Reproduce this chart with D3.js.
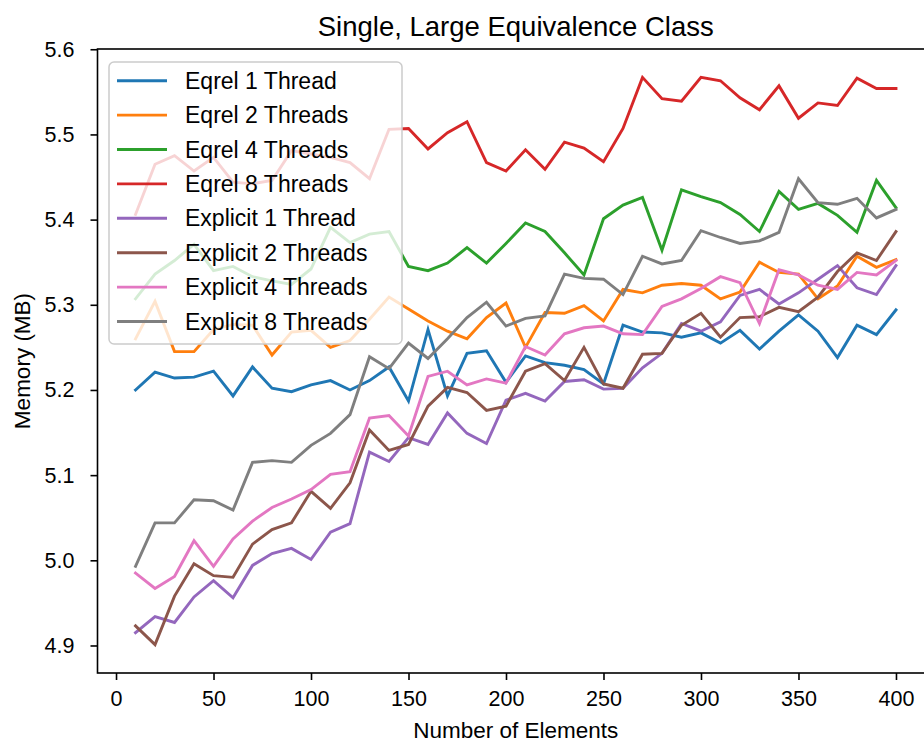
<!DOCTYPE html>
<html>
<head>
<meta charset="utf-8">
<script src="https://cdn.jsdelivr.net/npm/d3@7"></script>
<style>
  body { margin: 0; background: #fff; }
  text { font-family: "Liberation Sans", Arial, sans-serif; fill: #000; }
</style>
</head>
<body>
<div id="chart-container"></div>
<script>
// Number of elements (x values)
const elements = d3.range(10, 401, 10);

const seriesNames = [
    "Eqrel 1 Thread", "Eqrel 2 Threads", "Eqrel 4 Threads", "Eqrel 8 Threads",
    "Explicit 1 Thread", "Explicit 2 Threads", "Explicit 4 Threads", "Explicit 8 Threads"
];

const seriesColors = ["#1f77b4", "#ff7f0e", "#2ca02c", "#d62728", "#9467bd", "#8c564b", "#e377c2", "#7f7f7f"];

// Memory (MB) for each series
const eqrel1 = [5.200, 5.221, 5.214, 5.215, 5.222, 5.193, 5.227, 5.202, 5.198, 5.206,
    5.211, 5.200, 5.211, 5.227, 5.187, 5.271, 5.193, 5.243, 5.246, 5.209,
    5.240, 5.232, 5.229, 5.224, 5.207, 5.276, 5.268, 5.267, 5.262, 5.267,
    5.255, 5.270, 5.248, 5.269, 5.288, 5.269, 5.238, 5.276, 5.265, 5.294];
const eqrel2 = [5.260, 5.304, 5.245, 5.245, 5.271, 5.277, 5.276, 5.241, 5.268, 5.270,
    5.250, 5.258, 5.283, 5.309, 5.295, 5.281, 5.269, 5.260, 5.285, 5.302,
    5.250, 5.291, 5.290, 5.299, 5.281, 5.318, 5.314, 5.323, 5.325, 5.323,
    5.307, 5.315, 5.350, 5.338, 5.336, 5.307, 5.322, 5.357, 5.344, 5.353];
const eqrel4 = [5.307, 5.336, 5.352, 5.371, 5.340, 5.345, 5.333, 5.328, 5.324, 5.342,
    5.391, 5.373, 5.383, 5.386, 5.345, 5.340, 5.349, 5.367, 5.349, 5.372,
    5.396, 5.386, 5.361, 5.335, 5.401, 5.417, 5.426, 5.364, 5.435, 5.427,
    5.420, 5.406, 5.386, 5.433, 5.412, 5.419, 5.405, 5.385, 5.446, 5.414];
const eqrel8 = [5.406, 5.465, 5.475, 5.457, 5.473, 5.444, 5.442, 5.446, 5.481, 5.477,
    5.473, 5.467, 5.448, 5.506, 5.507, 5.483, 5.502, 5.515, 5.467, 5.457,
    5.482, 5.459, 5.491, 5.484, 5.468, 5.507, 5.567, 5.542, 5.539, 5.567,
    5.563, 5.543, 5.529, 5.557, 5.519, 5.537, 5.534, 5.566, 5.554, 5.554];
const explicit1 = [4.915, 4.934, 4.927, 4.957, 4.976, 4.956, 4.994, 5.008, 5.014, 5.001,
    5.033, 5.043, 5.127, 5.116, 5.144, 5.136, 5.173, 5.149, 5.137, 5.188,
    5.196, 5.187, 5.210, 5.212, 5.201, 5.202, 5.226, 5.243, 5.278, 5.269,
    5.280, 5.311, 5.318, 5.301, 5.314, 5.330, 5.346, 5.320, 5.312, 5.346];
const explicit2 = [4.923, 4.901, 4.958, 4.996, 4.982, 4.980, 5.019, 5.036, 5.044, 5.081,
    5.061, 5.091, 5.153, 5.129, 5.136, 5.181, 5.203, 5.197, 5.176, 5.181,
    5.222, 5.231, 5.211, 5.250, 5.207, 5.202, 5.242, 5.243, 5.276, 5.290,
    5.262, 5.285, 5.286, 5.297, 5.292, 5.309, 5.339, 5.361, 5.352, 5.386];
const explicit4 = [4.985, 4.967, 4.981, 5.023, 4.993, 5.025, 5.046, 5.062, 5.072, 5.083,
    5.101, 5.104, 5.167, 5.170, 5.146, 5.216, 5.222, 5.206, 5.213, 5.208,
    5.251, 5.241, 5.266, 5.273, 5.275, 5.266, 5.265, 5.298, 5.307, 5.319,
    5.333, 5.326, 5.278, 5.341, 5.335, 5.323, 5.318, 5.338, 5.335, 5.352];
const explicit8 = [4.993, 5.044, 5.044, 5.071, 5.070, 5.059, 5.115, 5.117, 5.115, 5.135,
    5.149, 5.171, 5.239, 5.225, 5.255, 5.237, 5.260, 5.285, 5.303, 5.275,
    5.284, 5.287, 5.336, 5.331, 5.330, 5.312, 5.357, 5.348, 5.352, 5.387,
    5.379, 5.372, 5.375, 5.385, 5.448, 5.420, 5.418, 5.425, 5.402, 5.412];

const allSeries = [eqrel1, eqrel2, eqrel4, eqrel8, explicit1, explicit2, explicit4, explicit8];

const xTicks = [0, 50, 100, 150, 200, 250, 300, 350, 400];
const yTicks = [4.9, 5.0, 5.1, 5.2, 5.3, 5.4, 5.5, 5.6];

// Build series objects for drawing
const series = seriesNames.map((name, i) => ({
    name: name,
    color: seriesColors[i],
    values: elements.map((x, j) => ({ x: x, y: allSeries[i][j] }))
}));

const width = 924;
const height = 743;
const plot = { left: 97.5, top: 49, bottom: 673, right: 934 };

// Data limits padded by 5% like the original plot
const xExt = d3.extent(elements);
const xPad = (xExt[1] - xExt[0]) * 0.05;
const yExt = d3.extent(allSeries.flat());
const yPad = (yExt[1] - yExt[0]) * 0.05;

const x = d3.scaleLinear()
    .domain([xExt[0] - xPad, xExt[1] + xPad])
    .range([plot.left, plot.right]);

const y = d3.scaleLinear()
    .domain([yExt[0] - yPad, yExt[1] + yPad])
    .range([plot.bottom, plot.top]);

const svg = d3.select("#chart-container")
    .append("svg")
    .attr("width", width)
    .attr("height", height);

// Lines
const line = d3.line()
    .x(d => x(d.x))
    .y(d => y(d.y));

svg.append("g")
    .selectAll("path")
    .data(series)
    .enter().append("path")
    .attr("d", d => line(d.values))
    .attr("fill", "none")
    .attr("stroke", d => d.color)
    .attr("stroke-width", 2.9)
    .attr("stroke-linejoin", "miter")
    .attr("stroke-linecap", "square");

// Axes
const xAxis = svg.append("g")
    .attr("transform", `translate(0, ${plot.bottom})`)
    .call(d3.axisBottom(x).tickValues(xTicks).tickSize(7).tickPadding(6).tickFormat(d3.format("d")));

const yAxis = svg.append("g")
    .attr("transform", `translate(${plot.left}, 0)`)
    .call(d3.axisLeft(y).tickValues(yTicks).tickSize(7).tickPadding(16).tickFormat(d3.format(".1f")));

[xAxis, yAxis].forEach(ax => {
    ax.select(".domain").remove();
    ax.selectAll(".tick line").attr("stroke", "#000").attr("stroke-width", 1.6);
    ax.selectAll(".tick text")
        .attr("font-size", "21.5px")
        .attr("font-family", "'Liberation Sans', Arial, sans-serif")
        .attr("fill", "#000");
});
xAxis.selectAll(".tick text").attr("dy", "0.95em");

// Frame round the plot
svg.append("rect")
    .attr("x", plot.left)
    .attr("y", plot.top)
    .attr("width", plot.right - plot.left)
    .attr("height", plot.bottom - plot.top)
    .attr("fill", "none")
    .attr("stroke", "#000")
    .attr("stroke-width", 1.6);

// Title and axis labels
svg.append("text")
    .attr("x", (plot.left + plot.right) / 2)
    .attr("y", 36)
    .attr("text-anchor", "middle")
    .attr("font-size", "27.5px")
    .text("Single, Large Equivalence Class");

svg.append("text")
    .attr("x", (plot.left + plot.right) / 2)
    .attr("y", 738)
    .attr("text-anchor", "middle")
    .attr("font-size", "22.5px")
    .text("Number of Elements");

svg.append("text")
    .attr("transform", `translate(30, ${(plot.top + plot.bottom) / 2}) rotate(-90)`)
    .attr("text-anchor", "middle")
    .attr("font-size", "22.5px")
    .text("Memory (MB)");

// Legend
const legend = svg.append("g");

legend.append("rect")
    .attr("x", 109)
    .attr("y", 62)
    .attr("width", 293)
    .attr("height", 282)
    .attr("rx", 5)
    .attr("fill", "#fff")
    .attr("fill-opacity", 0.8)
    .attr("stroke", "#ccc")
    .attr("stroke-width", 1.5);

const items = legend.selectAll(".legend-item")
    .data(series)
    .enter().append("g")
    .attr("class", "legend-item")
    .attr("transform", (d, i) => `translate(0, ${80.7 + i * 34.4})`);

items.append("line")
    .attr("x1", 117)
    .attr("x2", 167)
    .attr("stroke", d => d.color)
    .attr("stroke-width", 2.9);

items.append("text")
    .attr("x", 185)
    .attr("dy", "0.35em")
    .attr("font-size", "23px")
    .text(d => d.name);
</script>
</body>
</html>
